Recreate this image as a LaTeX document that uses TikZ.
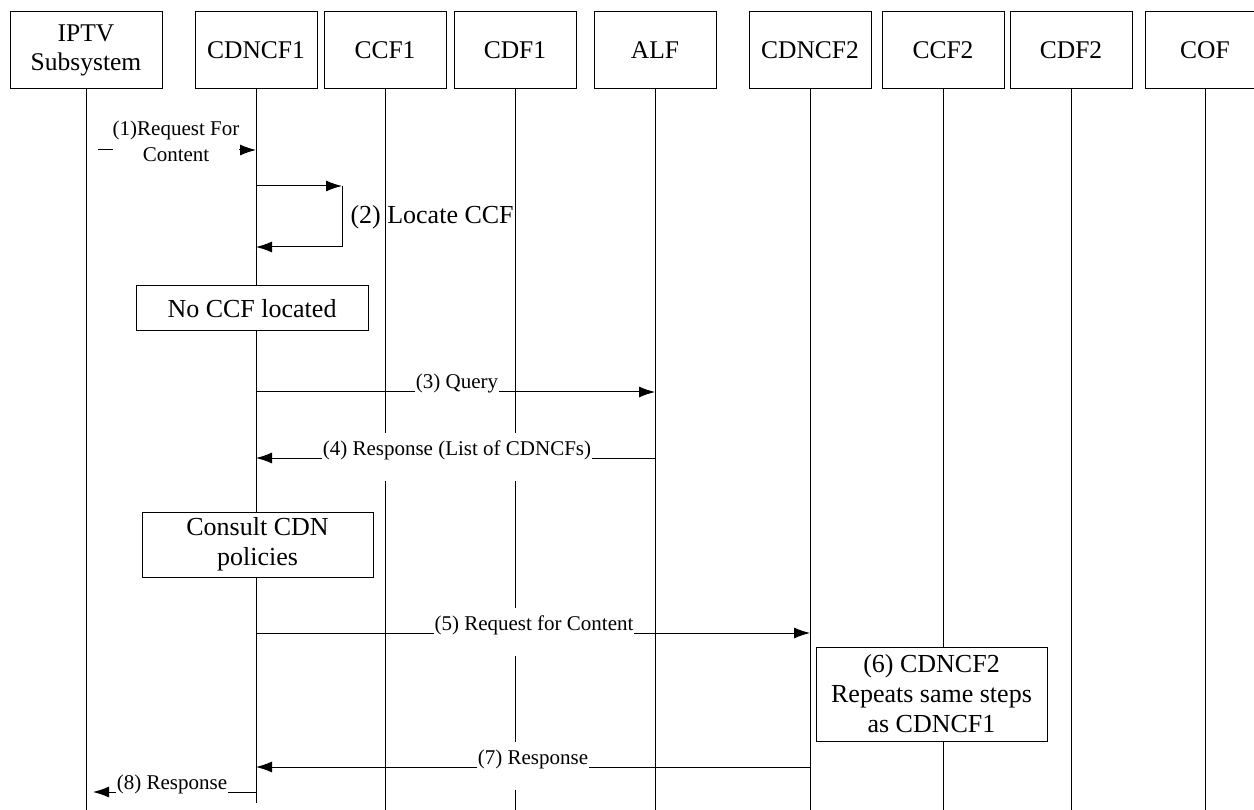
\documentclass[tikz,border=0pt]{standalone}
\usepackage{fontspec}
\setmainfont{Liberation Serif}
\usepackage{tikz}
\usetikzlibrary{arrows.meta}
\tikzset{>={Latex[length=16pt,width=11pt]}}
\newcommand{\hdfont}{\fontsize{25.5}{29}\selectfont}
\newcommand{\msgfont}{\fontsize{21}{26}\selectfont}
\newcommand{\notefont}{\fontsize{26}{30}\selectfont}

\begin{document}
\begin{tikzpicture}[x=1pt,y=-1pt,line width=1pt,
	head/.style={draw,fill=white,minimum width=122pt,minimum height=77pt,inner sep=0pt,align=center,font=\hdfont},
	note/.style={draw,fill=white,inner sep=0pt,align=center,font=\notefont},
	msg/.style={fill=white,font=\msgfont,inner xsep=1pt,inner ysep=0pt,text height=22pt,text depth=26pt,anchor=base}]
	\useasboundingbox (0,0) rectangle (1254,810);
	% entities
	\node[head,minimum width=152pt] (iptv) at (86,50.5) {IPTV\\Subsystem};
	\node[head] (cdncfA) at (256,50.5) {CDNCF1};
	\node[head] (ccfA) at (385,50.5) {CCF1};
	\node[head] (cdfA) at (515,50.5) {CDF1};
	\node[head] (alf) at (655,50.5) {ALF};
	\node[head] (cdncfB) at (810,50.5) {CDNCF2};
	\node[head] (ccfB) at (943,50.5) {CCF2};
	\node[head] (cdfB) at (1071,50.5) {CDF2};
	\node[head,minimum width=120pt] (cof) at (1205,50.5) {COF};
	% lifelines
	\coordinate (bot) at (0,810);
	\coordinate (botA) at (0,803);
	\draw (iptv.south) -- (iptv.south |- bot);
	\draw (cdncfA.south) -- (cdncfA.south |- botA);
	\draw (ccfA.south) -- (ccfA.south |- bot);
	\draw (cdfA.south) -- (cdfA.south |- bot);
	\draw (alf.south) -- (alf.south |- bot);
	\draw (cdncfB.south) -- (cdncfB.south |- bot);
	\draw (ccfB.south) -- (ccfB.south |- bot);
	\draw (cdfB.south) -- (cdfB.south |- bot);
	\draw (cof.south) -- (cof.south |- bot);
	% message rows
	\coordinate (r1) at (0,150);
	\coordinate (r3) at (0,392);
	\coordinate (r4) at (0,458);
	\coordinate (r5) at (0,633);
	\coordinate (r7) at (0,767);
	\coordinate (r8) at (0,792);
	\coordinate (lp1) at (342,186);
	\coordinate (lp2) at (342,247);
	% messages
	\draw[->,shorten <=12pt] (iptv |- r1) -- (cdncfA |- r1);
	\draw[->] (cdncfA |- lp1) -- (lp1);
	\draw[->] (lp1) -- (lp2) -- (cdncfA |- lp2);
	\draw[->] (cdncfA |- r3) -- (alf |- r3);
	\draw[->] (alf |- r4) -- (cdncfA |- r4);
	\draw[->] (cdncfA |- r5) -- (cdncfB |- r5);
	\draw[->] (cdncfB |- r7) -- (cdncfA |- r7);
	\draw[->,shorten >=7pt] (cdncfA |- r8) -- (iptv |- r8);
	% notes
	\node[font=\notefont,inner sep=0pt,anchor=west] (locate) at (350,217) {(2) Locate CCF};
	\node[note,minimum width=232pt,minimum height=45pt] (noccf) at (252,308.5) {No CCF located};
	\node[note,minimum width=231pt,minimum height=65pt] (consult) at (257.5,544.5) {Consult CDN\\policies};
	\node[note,minimum width=231pt,minimum height=94pt] (repeat) at (931.5,694) {(6) CDNCF2\\Repeats same steps\\as CDNCF1};
	% labels
	\node[fill=white,font=\msgfont,inner xsep=0pt,inner ysep=1pt,align=center] (m1) at (176,141) {(1)Request For\\Content};
	\node[msg] (m3) at (457,389) {(3) Query};
	\node[msg] (m4) at (457,455) {(4) Response (List of CDNCFs)};
	\node[msg] (m5) at (534,630) {(5) Request for Content};
	\node[msg] (m7) at (533,764) {(7) Response};
	\node[msg] (m8) at (172,789) {(8) Response};
\end{tikzpicture}
\end{document}
